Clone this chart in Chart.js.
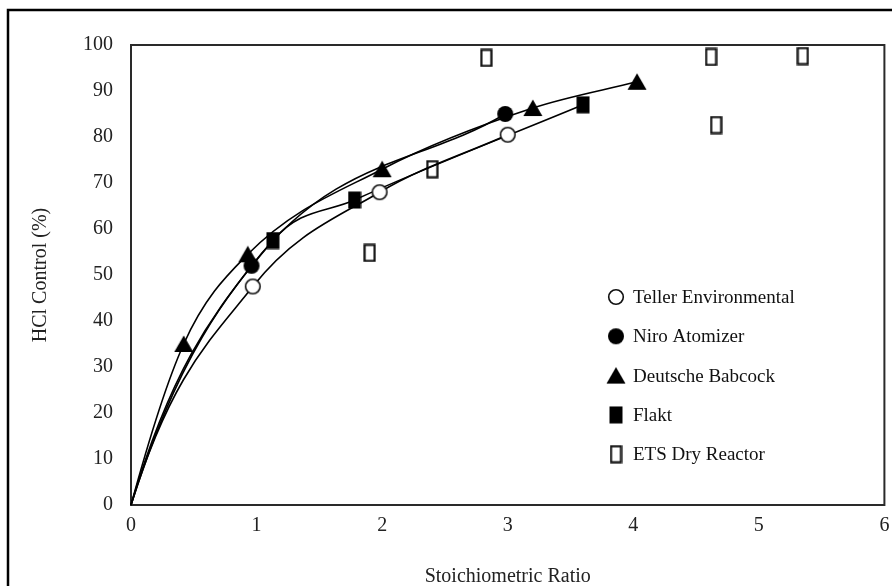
<!DOCTYPE html>
<html>
<head>
<meta charset="utf-8">
<script src="https://cdn.jsdelivr.net/npm/chart.js@4"></script>
<style>
html,body{margin:0;padding:0;background:#fff;}
#c{display:block;}
</style>
</head>
<body>
<canvas id="c" width="892" height="586"></canvas>
<script>
// ---- data ----
const xTicks = [0, 1, 2, 3, 4, 5, 6];
const yTicks = [0, 10, 20, 30, 40, 50, 60, 70, 80, 90, 100];
const seriesNames = ['Teller Environmental', 'Niro Atomizer', 'Deutsche Babcock', 'Flakt', 'ETS Dry Reactor'];
const tellerX = [0.97, 1.98, 3.0];
const tellerY = [47.5, 68, 80.5];
const niroX = [0.96, 2.98];
const niroY = [52, 85];
const deutscheX = [0.42, 0.93, 2.0, 3.2, 4.03];
const deutscheY = [35, 54.5, 73, 86.3, 92];
const flaktX = [1.13, 1.78, 3.6];
const flaktY = [57.5, 66.3, 87];
const etsX = [1.90, 2.40, 2.83, 4.62, 4.66, 5.35];
const etsY = [54.8, 73, 97.2, 97.4, 82.6, 97.6];
const originX = 0, originY = 0;

// ---- marker images ----
function mk(w, h, draw) {
  const c = document.createElement('canvas');
  c.width = w; c.height = h;
  const g = c.getContext('2d');
  draw(g, w, h);
  return c;
}
const mOpenCircle = mk(18, 18, (g) => {
  g.beginPath(); g.arc(9, 9, 7.3, 0, Math.PI * 2);
  g.fillStyle = '#fff'; g.fill();
  g.lineWidth = 1.6; g.strokeStyle = '#111'; g.stroke();
});
const mFilledCircle = mk(18, 18, (g) => {
  g.beginPath(); g.arc(9, 9, 8, 0, Math.PI * 2);
  g.fillStyle = '#000'; g.fill();
});
const mTriangle = mk(20, 18, (g) => {
  g.beginPath(); g.moveTo(10, 0.5); g.lineTo(19.5, 17); g.lineTo(0.5, 17); g.closePath();
  g.fillStyle = '#000'; g.fill();
});
const mFilledRect = mk(14, 18, (g) => {
  g.fillStyle = '#000'; g.fillRect(0.5, 0.5, 13, 17);
});
const mOpenRect = mk(13, 19, (g) => {
  g.fillStyle = '#fff'; g.fillRect(1, 1, 11, 17);
  g.lineWidth = 2.2; g.strokeStyle = '#111'; g.strokeRect(1.5, 1.5, 10, 16);
});
const markers = [mOpenCircle, mFilledCircle, mTriangle, mFilledRect, mOpenRect];
// how steeply each fitted curve leaves the origin (style only)
const startSteepness = [1.8, 1.7, 1.2, 1.7];

function pts(xs, ys, withOrigin) {
  const out = withOrigin ? [{x: originX, y: originY}] : [];
  xs.forEach((x, i) => out.push({x: x, y: ys[i]}));
  return out;
}
function curveDs(idx, xs, ys) {
  return {
    label: seriesNames[idx],
    data: pts(xs, ys, true),
    showLine: true,
    borderColor: '#000',
    borderWidth: 1.6,
    cubicInterpolationMode: 'monotone',
    pointStyle: markers[idx],
    pointRadius: (ctx) => ctx.dataIndex === 0 ? 0 : 6,
    clip: false
  };
}

const datasets = [
  curveDs(0, tellerX, tellerY),
  curveDs(1, niroX, niroY),
  curveDs(2, deutscheX, deutscheY),
  curveDs(3, flaktX, flaktY),
  {
    label: seriesNames[4],
    data: pts(etsX, etsY, false),
    showLine: false,
    pointStyle: markers[4],
    pointRadius: 6,
    clip: false
  }
];

const FONT = 'Liberation Serif';
const curveShape = {
  id: 'curveShape',
  beforeDatasetsDraw(chart) {
    chart.data.datasets.forEach((ds, i) => {
      if (!ds.showLine) return;
      const meta = chart.getDatasetMeta(i);
      const line = meta.dataset;
      if (!line) return;
      line.updateControlPoints(chart.chartArea, 'x');
      const p = line.points;
      if (p.length < 2) return;
      const p0 = p[0], p1 = p[1];
      const f = startSteepness[i] || 1;
      p0.cp2x = p0.x + (p1.x - p0.x) / 3;
      p0.cp2y = p0.y + f * (p1.y - p0.y) / 3;
      line._path = undefined;
    });
  }
};
const frameAndBorder = {
  id: 'frameAndBorder',
  beforeDatasetsDraw(chart) {
    const {ctx, chartArea: a} = chart;
    ctx.save();
    ctx.strokeStyle = '#2a2a2a';
    ctx.lineWidth = 2;
    ctx.strokeRect(a.left, a.top, a.right - a.left, a.bottom - a.top);
    ctx.restore();
  },
  afterDraw(chart) {
    const ctx = chart.ctx;
    ctx.save();
    // outer figure border
    ctx.strokeStyle = '#000';
    ctx.lineWidth = 2.5;
    ctx.beginPath();
    ctx.moveTo(8, 600); ctx.lineTo(8, 10); ctx.lineTo(900, 10);
    ctx.stroke();
    // legend
    const lx = 616, ly0 = 297, dy = 39.3;
    ctx.font = '19px "' + FONT + '"';
    ctx.fillStyle = '#111';
    ctx.textBaseline = 'middle';
    ctx.textAlign = 'left';
    chart.data.datasets.forEach((ds, i) => {
      const y = ly0 + i * dy;
      const m = ds.pointStyle;
      ctx.drawImage(m, lx - m.width / 2, y - m.height / 2);
      ctx.fillText(ds.label, 633, y + 1);
    });
    ctx.restore();
  }
};

new Chart(document.getElementById('c'), {
  type: 'scatter',
  data: { datasets },
  options: {
    responsive: false,
    animation: false,
    layout: { padding: { left: 0, right: 7, top: 45, bottom: 0 } },
    plugins: { legend: { display: false }, tooltip: { enabled: false } },
    scales: {
      x: {
        type: 'linear', min: xTicks[0], max: xTicks[xTicks.length - 1],
        afterBuildTicks(s) { s.ticks = xTicks.map(v => ({value: v})); },
        ticks: { color: '#222', font: { family: FONT, size: 20 }, padding: 9 },
        grid: { display: false, drawTicks: false },
        border: { display: false },
        title: { display: true, text: 'Stoichiometric Ratio', color: '#222',
                 font: { family: FONT, size: 20 }, padding: { top: 0, bottom: -3 } },
        afterFit(s) { s.height = 81; s.paddingLeft = 0; s.paddingRight = 0; }
      },
      y: {
        type: 'linear', min: yTicks[0], max: yTicks[yTicks.length - 1],
        afterBuildTicks(s) { s.ticks = yTicks.map(v => ({value: v})); },
        ticks: { color: '#222', font: { family: FONT, size: 20 }, padding: 18 },
        grid: { display: false, drawTicks: false },
        border: { display: false },
        title: { display: true, text: 'HCl Control (%)', color: '#222',
                 font: { family: FONT, size: 20 }, padding: { top: 29, bottom: 0 } },
        afterFit(s) { s.width = 131; s.paddingTop = 0; s.paddingBottom = 0; }
      }
    }
  },
  plugins: [curveShape, frameAndBorder]
});
</script>
</body>
</html>
